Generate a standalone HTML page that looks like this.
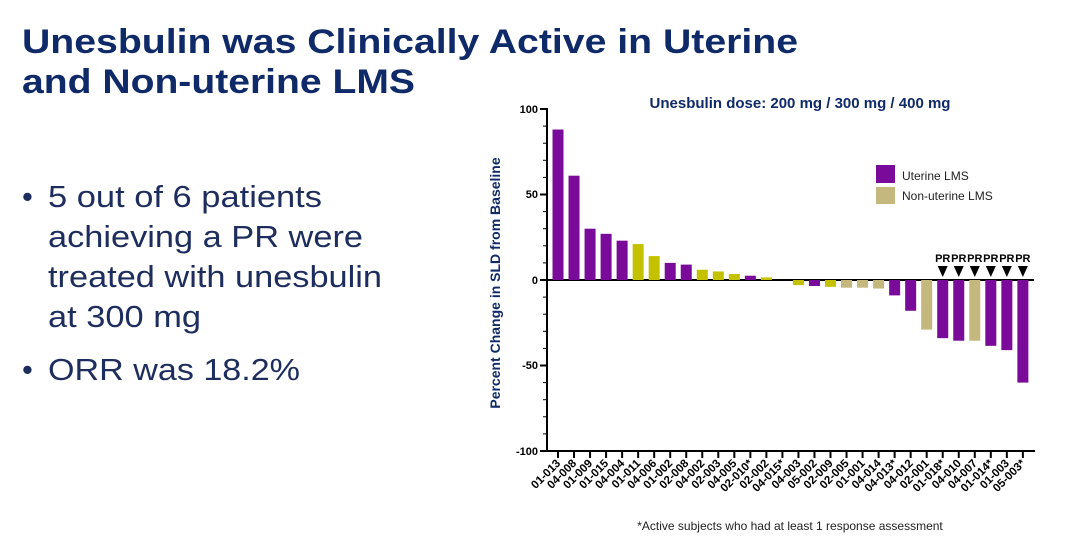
<!DOCTYPE html>
<html><head><meta charset="utf-8"><style>
html,body{margin:0;padding:0;background:#fff;}
svg{display:block;font-family:"Liberation Sans",Arial,sans-serif;}
</style></head><body>
<svg width="1080" height="542" viewBox="0 0 1080 542" xmlns="http://www.w3.org/2000/svg">
<g fill="#0f2a68" font-weight="bold" font-size="34">
<text x="22" y="53" textLength="776" lengthAdjust="spacingAndGlyphs">Unesbulin was Clinically Active in Uterine</text>
<text x="22" y="93" textLength="393" lengthAdjust="spacingAndGlyphs">and Non-uterine LMS</text>
</g>
<g fill="#1d2d5e" font-size="31">
<text x="22" y="207">•</text>
<text x="48" y="207" textLength="274" lengthAdjust="spacingAndGlyphs">5 out of 6 patients</text>
<text x="48" y="247" textLength="315" lengthAdjust="spacingAndGlyphs">achieving a PR were</text>
<text x="48" y="287" textLength="334" lengthAdjust="spacingAndGlyphs">treated with unesbulin</text>
<text x="48" y="327" textLength="153" lengthAdjust="spacingAndGlyphs">at 300 mg</text>
<text x="22" y="380">•</text>
<text x="48" y="380" textLength="252" lengthAdjust="spacingAndGlyphs">ORR was 18.2%</text>
</g>
<text x="800" y="108" text-anchor="middle" font-size="15" font-weight="bold" fill="#0f2a68">Unesbulin dose: 200 mg / 300 mg / 400 mg</text>
<text transform="translate(500,283) rotate(-90)" text-anchor="middle" font-size="14" font-weight="bold" fill="#0f2a68">Percent Change in SLD from Baseline</text>
<g font-size="11" font-weight="bold" fill="#000" text-anchor="end">
<text x="538" y="113">100</text><text x="538" y="198">50</text><text x="538" y="284">0</text><text x="538" y="369">-50</text><text x="538" y="455">-100</text>
</g>
<g stroke="#000" stroke-width="2">
<line x1="547" y1="108" x2="547" y2="452"/>
<line x1="546" y1="451" x2="1035" y2="451"/>
<line x1="547" y1="280" x2="1034" y2="280"/>
<line x1="540" y1="109" x2="547" y2="109"/><line x1="540" y1="194.5" x2="547" y2="194.5"/><line x1="540" y1="280" x2="547" y2="280"/><line x1="540" y1="365.5" x2="547" y2="365.5"/><line x1="540" y1="451" x2="547" y2="451"/>
</g>
<g id="bars"></g>
<g id="minor" stroke="#000" stroke-width="1"></g>
<g id="xt" stroke="#000" stroke-width="2"></g>
<g id="xl" font-size="11.5" font-weight="bold" fill="#000"></g>
<g id="pr" font-size="11" font-weight="bold" fill="#000"></g>
<rect x="876" y="165" width="19" height="18" fill="#7a0a9a"/>
<rect x="876" y="187" width="19" height="17" fill="#c4b87e"/>
<text x="902" y="180" font-size="12" fill="#222">Uterine LMS</text>
<text x="902" y="200" font-size="12" fill="#222">Non-uterine LMS</text>
<text x="790" y="530" text-anchor="middle" font-size="12" fill="#222">*Active subjects who had at least 1 response assessment</text>
<script>
var d=[["01-013","P",88],["04-008","P",61],["01-009","P",30],["01-015","P",27],["04-004","P",23],["01-011","Y",21],["04-006","Y",14],["01-002","P",10],["02-008","P",9],["04-002","Y",6],["02-003","Y",5],["04-005","Y",3.5],["02-010*","P",2.5],["02-002","Y",1.5],["04-015*","P",0],["04-003","Y",-3],["05-002","P",-3.5],["02-009","Y",-4],["02-005","T",-4.5],["01-001","T",-4.5],["04-014","T",-5],["04-013*","P",-9],["04-012","P",-18],["02-001","T",-29],["01-018*","P",-34],["04-010","P",-35.5],["04-007","T",-35.5],["01-014*","P",-38.5],["01-003","P",-41],["05-003*","P",-60]];
var col={P:"#7a0a9a",Y:"#c4c200",T:"#c4b87e"};
var ns="http://www.w3.org/2000/svg";
function el(t,a,p,txt){var e=document.createElementNS(ns,t);for(var k in a)e.setAttribute(k,a[k]);if(txt)e.textContent=txt;document.getElementById(p).appendChild(e);return e;}
d.forEach(function(r,i){var cx=558+i*16.03;var v=r[2]*1.71;
if(v!=0)el("rect",{x:cx-5.5,y:v>0?280-v:280,width:11,height:Math.abs(v),fill:col[r[1]]},"bars");
el("line",{x1:cx,y1:451,x2:cx,y2:458},"xt");
el("text",{x:cx+3,y:464,"text-anchor":"end",transform:"rotate(-45 "+(cx+3)+" 464)"},"xl",r[0]);
if(i>=24){el("text",{x:cx,y:262,"text-anchor":"middle"},"pr","PR");el("polygon",{points:(cx-5)+",266 "+(cx+5)+",266 "+cx+",277",fill:"#000"},"pr");}
});
for(var v=-100;v<=100;v+=10){if(v%50)el("line",{x1:543,y1:280-v*1.71,x2:547,y2:280-v*1.71},"minor");}
</script>
</svg>
</body></html>
